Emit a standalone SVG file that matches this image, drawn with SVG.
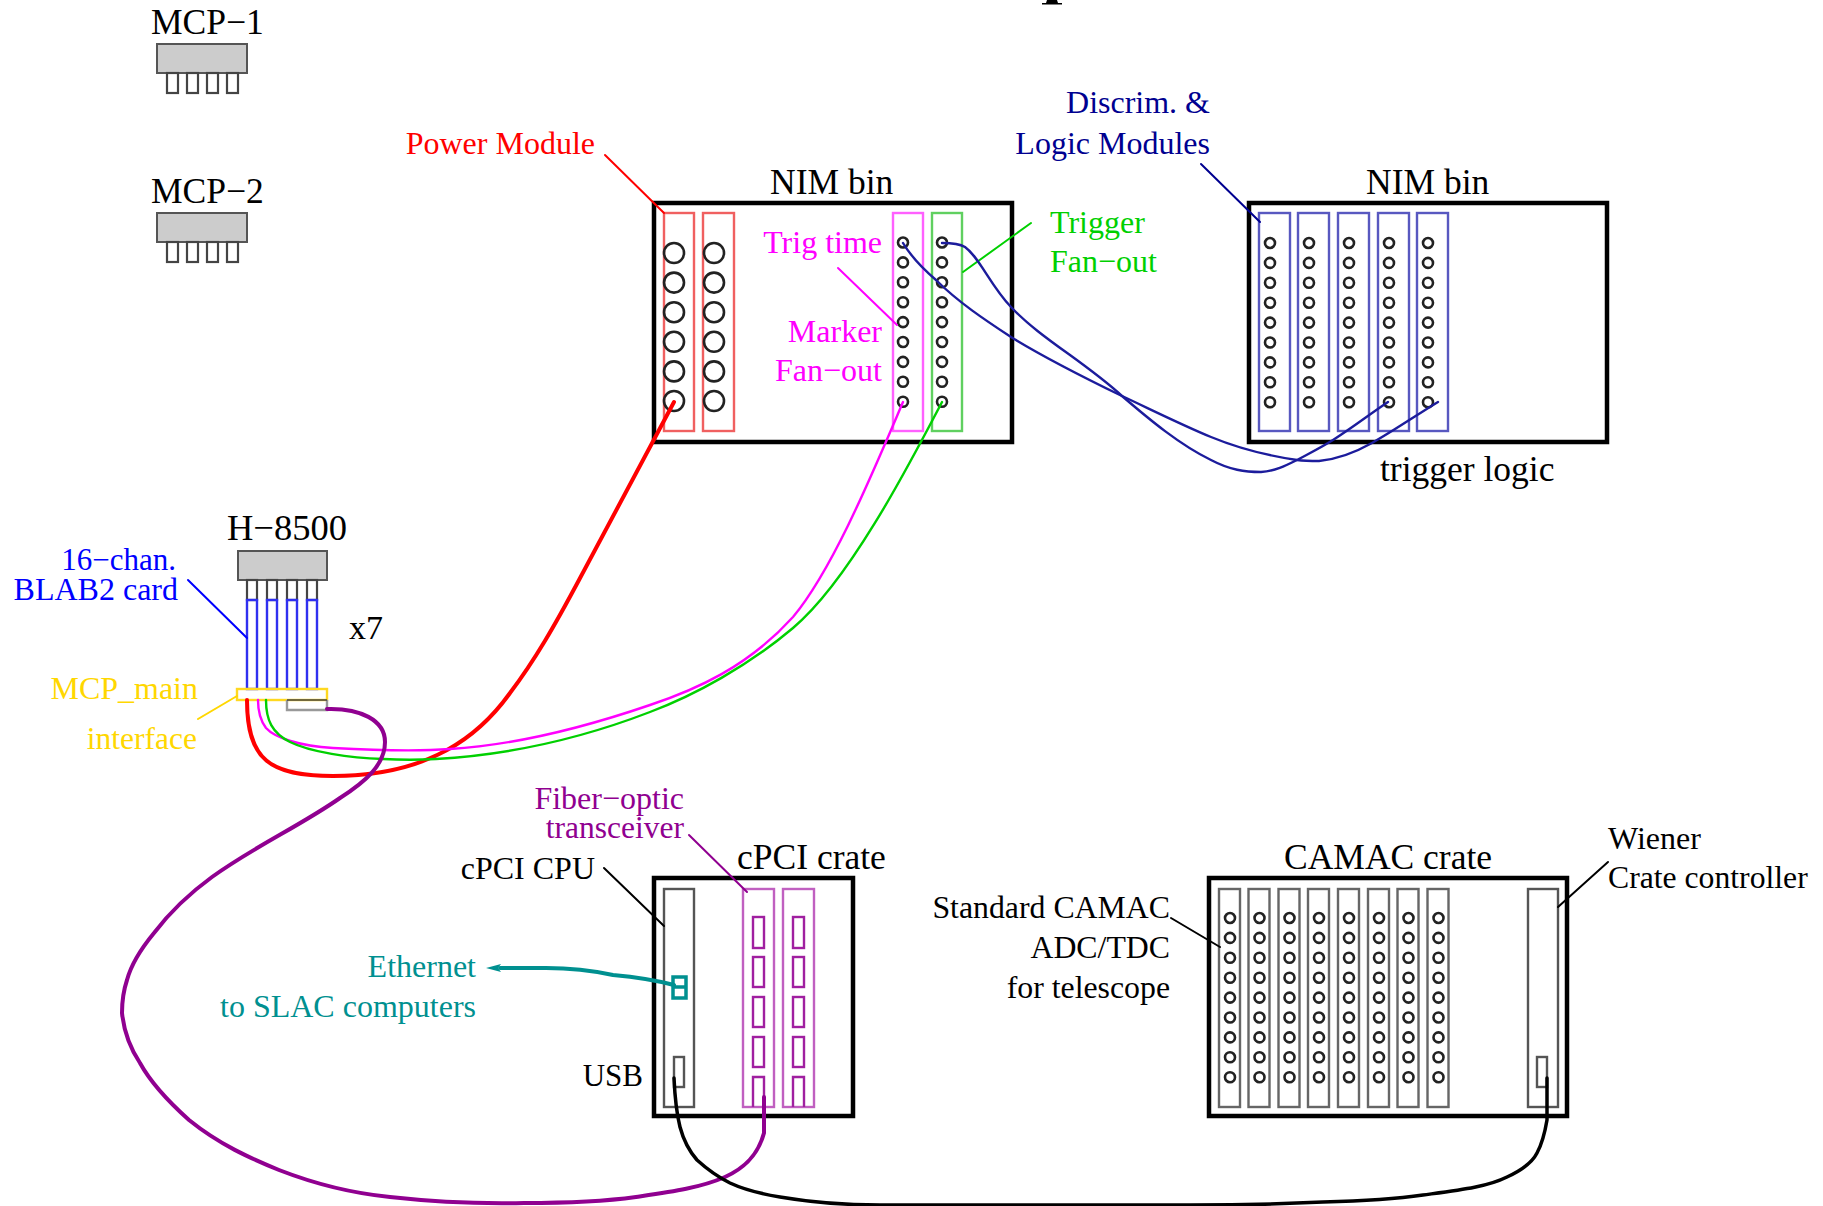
<svg xmlns="http://www.w3.org/2000/svg" width="1823" height="1206" viewBox="0 0 1823 1206">
<style>
text{font-family:"Liberation Serif","Times New Roman",serif;font-size:32px}
.big{font-size:35.500px}
.e{text-anchor:end}
.crate{fill:none;stroke:#000;stroke-width:4.5}
.m{fill:none;stroke-width:2.4}
.gy{fill:#ccc;stroke:#555;stroke-width:2}
.pin{fill:#fff;stroke:#444;stroke-width:2.2}
.c{fill:none;stroke:#222;stroke-width:2.600}
</style>
<defs>
<marker id="ar" markerWidth="16" markerHeight="10" refX="1" refY="5" orient="auto" markerUnits="userSpaceOnUse"><path d="M15 5L0 1L3 5L0 9Z" fill="#009090"/></marker>
<g id="col9"><circle cx="0" cy="0" r="5" class="c"/><circle cy="19.9" r="5" class="c"/><circle cy="39.8" r="5" class="c"/><circle cy="59.7" r="5" class="c"/><circle cy="79.6" r="5" class="c"/><circle cy="99.5" r="5" class="c"/><circle cy="119.4" r="5" class="c"/><circle cy="139.3" r="5" class="c"/><circle cy="159.2" r="5" class="c"/></g>
<g id="col6"><circle cy="0" r="10" class="c"/><circle cy="29.6" r="10" class="c"/><circle cy="59.2" r="10" class="c"/><circle cy="88.8" r="10" class="c"/><circle cy="118.4" r="10" class="c"/><circle cy="148" r="10" class="c"/></g>
<g id="pmt"><rect x="0" y="0" width="90" height="29" class="gy"/><rect x="10" y="29" width="11" height="20" class="pin"/><rect x="30" y="29" width="11" height="20" class="pin"/><rect x="50" y="29" width="11" height="20" class="pin"/><rect x="70" y="29" width="11" height="20" class="pin"/></g>
<g id="cam"><rect x="-11" y="-29" width="21" height="218" class="m" stroke="#666"/><use href="#col9"/></g>
<g id="fib"><rect x="0" y="0" width="31" height="218" class="m" stroke="#c060c0"/><g fill="none" stroke="#a020a0" stroke-width="2.4"><rect x="10" y="28" width="11" height="31"/><rect x="10" y="68" width="11" height="30"/><rect x="10" y="108" width="11" height="30"/><rect x="10" y="148" width="11" height="30"/><path d="M10 218V188H21V218"/></g></g>
<g id="nimmod"><rect x="-11" y="-30" width="31" height="218" class="m" stroke="#5858c0"/><use href="#col9"/></g>
</defs>

<g id="title-fragment"><path d="M1047 0H1057L1058 3H1062V4.500H1042V3H1046Z" fill="#000"/></g>

<g id="mcp1"><text class="big" x="151" y="34">MCP−1</text><use href="#pmt" x="157" y="44"/></g>
<g id="mcp2"><text class="big" x="151" y="203">MCP−2</text><use href="#pmt" x="157" y="213"/></g>

<g id="nim1">
<text class="big" x="770" y="194">NIM bin</text>
<rect x="654" y="203" width="358" height="239" class="crate"/>
<rect x="664" y="213" width="30" height="218" class="m" stroke="#f06060"/>
<rect x="703" y="213" width="31" height="218" class="m" stroke="#f06060"/>
<use href="#col6" x="674" y="253"/><use href="#col6" x="714" y="253"/>
<rect x="893" y="213" width="30" height="218" class="m" stroke="#ff60ff"/>
<rect x="932" y="213" width="30" height="218" class="m" stroke="#60d060"/>
<use href="#col9" x="903" y="242.500"/><use href="#col9" x="942" y="242.500"/>
</g>

<g id="nim2">
<text class="big" x="1366" y="194">NIM bin</text>
<rect x="1249" y="203" width="358" height="239" class="crate"/>
<use href="#nimmod" x="1270" y="243"/><use href="#nimmod" x="1309" y="243"/><use href="#nimmod" x="1349" y="243"/><use href="#nimmod" x="1389" y="243"/><use href="#nimmod" x="1428" y="243"/>
<text class="big" x="1380" y="481">trigger logic</text>
</g>

<g id="h8500">
<text class="big" x="227" y="540" style="font-size:36.500px">H−8500</text>
<rect x="238" y="551" width="89" height="29" class="gy"/>
<g class="pin"><rect x="247" y="580" width="10" height="20"/><rect x="267" y="580" width="10" height="20"/><rect x="287" y="580" width="10" height="20"/><rect x="307" y="580" width="10" height="20"/></g>
<g fill="none" stroke="#3030f0" stroke-width="2.4"><rect x="247" y="600" width="10" height="89"/><rect x="267" y="600" width="10" height="89"/><rect x="287" y="600" width="10" height="89"/><rect x="307" y="600" width="10" height="89"/></g>
<rect x="237" y="689" width="90" height="11" fill="none" stroke="#ffd820" stroke-width="2.4"/>
<path d="M287 700V710H327V700" fill="none" stroke="#999" stroke-width="2.4"/>
<path d="M287 700H327" stroke="#444" stroke-width="1.500"/>
<text x="349" y="639" style="font-size:34px">x7</text>
</g>

<g id="cpci">
<text class="big" x="737" y="869">cPCI crate</text>
<rect x="654" y="878" width="199" height="238" class="crate"/>
<rect x="664" y="889" width="30" height="218" class="m" stroke="#555"/>
<rect x="674" y="1057" width="10" height="30" class="m" stroke="#555"/>
<use href="#fib" x="743" y="889"/><use href="#fib" x="783" y="889"/>
<path d="M673 977H686V998H673ZM673 987H686" fill="none" stroke="#009090" stroke-width="3.500"/>
</g>

<g id="camac">
<text class="big" x="1284" y="869">CAMAC crate</text>
<rect x="1209" y="878" width="358" height="238" class="crate"/>
<use href="#cam" x="1230" y="918"/><use href="#cam" x="1259.500" y="918"/><use href="#cam" x="1289.500" y="918"/><use href="#cam" x="1319" y="918"/><use href="#cam" x="1349" y="918"/><use href="#cam" x="1379" y="918"/><use href="#cam" x="1408.500" y="918"/><use href="#cam" x="1438.500" y="918"/>
<rect x="1528" y="889" width="30" height="218" class="m" stroke="#555"/>
<rect x="1537" y="1057" width="10" height="30" class="m" stroke="#555"/>
</g>

<g id="labels">
<text class="e" x="595" y="154" fill="#ff0000">Power Module</text>
<text class="e" x="1210" y="113" fill="#000090">Discrim. &amp;</text>
<text class="e" x="1210" y="154" fill="#000090">Logic Modules</text>
<text class="e" x="882" y="253" fill="#ff00ff">Trig time</text>
<text class="e" x="882" y="342" fill="#ff00ff">Marker</text>
<text class="e" x="882" y="381" fill="#ff00ff">Fan−out</text>
<text x="1050" y="233" fill="#00d000">Trigger</text>
<text x="1050" y="272" fill="#00d000">Fan−out</text>
<text class="e" x="176" y="570" fill="#0000ff" style="font-size:31px">16−chan.</text>
<text class="e" x="178" y="600" fill="#0000ff">BLAB2 card</text>
<text class="e" x="198" y="699" fill="#ffd700">MCP_main</text>
<text class="e" x="197" y="749" fill="#ffd700" style="font-size:31.500px">interface</text>
<text class="e" x="684" y="809" fill="#900090">Fiber−optic</text>
<text class="e" x="684" y="838" fill="#900090" style="font-size:31.500px">transceiver</text>
<text class="e" x="595" y="879">cPCI CPU</text>
<text class="e" x="476" y="977" fill="#009090">Ethernet</text>
<text class="e" x="476" y="1017" fill="#009090">to SLAC computers</text>
<text class="e" x="643" y="1086" style="font-size:31px">USB</text>
<text class="e" x="1170" y="918" style="font-size:31.800px">Standard CAMAC</text>
<text class="e" x="1170" y="958" style="font-size:31.800px">ADC/TDC</text>
<text class="e" x="1170" y="998" style="font-size:31.800px">for telescope</text>
<text x="1608" y="849">Wiener</text>
<text x="1608" y="888" style="font-size:31.700px">Crate controller</text>
</g>

<g id="connectors" fill="none" stroke-linecap="round">
<path d="M605 155L664 213" stroke="#ff0000" stroke-width="2"/>
<path d="M1201 164L1260 222" stroke="#000090" stroke-width="2"/>
<path d="M838 268L897 325" stroke="#ff00ff" stroke-width="2"/>
<path d="M1031 223L963 272" stroke="#00d000" stroke-width="2"/>
<path d="M188 580L247 638" stroke="#0000ff" stroke-width="2"/>
<path d="M198 719L237 696" stroke="#ffd700" stroke-width="2"/>
<path d="M689 835L747 892" stroke="#900090" stroke-width="2"/>
<path d="M604 868L664 926" stroke="#000" stroke-width="2"/>
<path d="M1171 918L1220 947" stroke="#000" stroke-width="2"/>
<path d="M1608 862L1558 907" stroke="#000" stroke-width="2"/>
<path d="M903 243C912 258 922 268 936 280C958 302 985 320 1011 337C1045 358 1085 378 1122 396C1152 410 1182 425 1211 437C1240 449 1270 456 1297 460C1305 461 1312 461 1319 461C1340 459 1356 452 1372 443C1395 430 1415 416 1438 402" stroke="#1c1c9c" stroke-width="2.400"/>
<path d="M942 243C952 243 960 244 965 247C980 258 990 285 1011 307C1040 338 1085 362 1122 396C1150 420 1180 445 1211 460C1230 470 1245 472 1261 472C1275 471 1285 466 1297 460C1310 453 1322 447 1333 440C1352 428 1370 414 1388 402" stroke="#1c1c9c" stroke-width="2.400"/>
<path d="M674 402L579 580C555 625 535 660 510 693C480 735 430 776 333 776C270 776 247 760 247 700" stroke="#ff0000" stroke-width="4"/>
<path d="M903 402C873 472 833 569 793 617C748 667 695 690 650 705C580 729 515 745 450 749C410 752 370 750 333 748C300 746 275 738 266 728C260 720 258 712 258 700" stroke="#ff00ff" stroke-width="2.400"/>
<path d="M942 402C907 469 848 582 793 628C748 666 695 695 650 712C580 739 506 755 436 759C420 760 400 760 383 759C350 758 310 752 290 742C272 733 266 720 266 700" stroke="#00d000" stroke-width="2.400"/>
<path d="M327 709C360 708 385 720 385 742C385 765 365 782 340 798C300 826 255 846 212 877C190 893 170 912 154 933C140 950 131 965 127 980C123 992 122 1003 122 1013C124 1032 130 1048 140 1063C152 1085 170 1103 189 1120C220 1145 250 1158 279 1170C315 1184 350 1193 390 1197C435 1202 480 1204 524 1203C565 1203 600 1202 636 1197C670 1192 700 1188 725 1177C745 1168 758 1155 764 1133V1097" stroke="#900090" stroke-width="4"/>
<path d="M674 1078C675 1100 677 1115 680 1127C684 1142 690 1152 697 1160C708 1170 718 1177 730 1183C745 1190 762 1194 780 1197C815 1203 850 1205 880 1205L1190 1205C1240 1205 1280 1204 1323 1202C1360 1201 1395 1199 1423 1195C1460 1190 1487 1187 1507 1177C1522 1170 1532 1163 1537 1153C1543 1142 1545 1132 1547 1120V1078" stroke="#000" stroke-width="3.500"/>
<path d="M674 985C655 980 635 977 613 975C590 970 570 968 546 968L500 968" stroke="#009090" stroke-width="4" marker-end="url(#ar)"/>
</g>
</svg>
